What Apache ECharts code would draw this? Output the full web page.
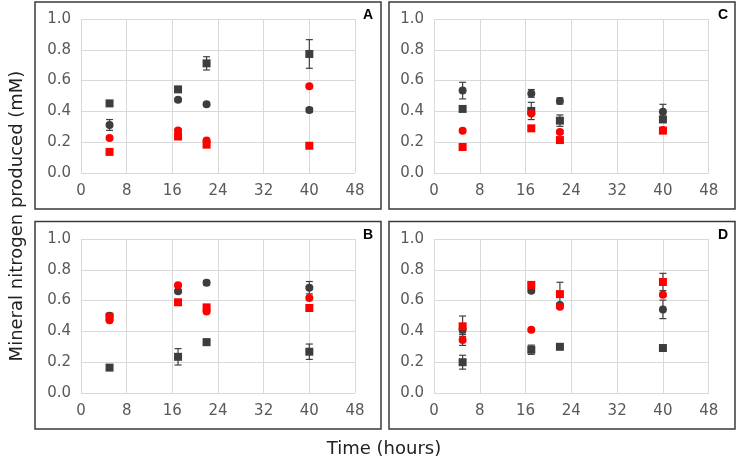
<!DOCTYPE html>
<html>
<head>
<meta charset="utf-8">
<script src="https://cdn.jsdelivr.net/npm/echarts@6/dist/echarts.min.js"></script>
<style>
html,body{margin:0;padding:0;background:#fff;}
#chart{width:737px;height:462px;}
</style>
</head>
<body>
<div id="chart"></div>
<script>
// ---- data ----
const xHours = [5, 17, 22, 40];
const xTicks = [0, 8, 16, 24, 32, 40, 48];
const yTicks = [0.0, 0.2, 0.4, 0.6, 0.8, 1.0];
const panelLabels = ['A', 'B', 'C', 'D'];

// Panel A
const A_blackSquare = [0.452, 0.543, 0.712, 0.773];
const A_blackSquareErr = [0.01, 0.01, 0.043, 0.093];
const A_blackCircle = [0.312, 0.475, 0.446, 0.409];
const A_blackCircleErr = [0.035, 0.01, 0.01, 0.015];
const A_redSquare = [0.137, 0.237, 0.184, 0.177];
const A_redSquareErr = [0.01, 0.01, 0.01, 0.01];
const A_redCircle = [0.227, 0.276, 0.211, 0.563];
const A_redCircleErr = [0.01, 0.01, 0.01, 0.01];

// Panel B
const B_blackSquare = [0.165, 0.235, 0.33, 0.268];
const B_blackSquareErr = [0.01, 0.053, 0.02, 0.05];
const B_blackCircle = [0.502, 0.66, 0.716, 0.684];
const B_blackCircleErr = [0.015, 0.01, 0.015, 0.04];
const B_redSquare = [0.495, 0.589, 0.556, 0.552];
const B_redSquareErr = [0.01, 0.01, 0.01, 0.01];
const B_redCircle = [0.472, 0.699, 0.530, 0.617];
const B_redCircleErr = [0.01, 0.01, 0.01, 0.01];

// Panel C
const C_blackSquare = [0.416, 0.403, 0.34, 0.348];
const C_blackSquareErr = [0.01, 0.056, 0.037, 0.02];
const C_blackCircle = [0.535, 0.517, 0.468, 0.398];
const C_blackCircleErr = [0.054, 0.025, 0.02, 0.048];
const C_redSquare = [0.169, 0.29, 0.214, 0.275];
const C_redSquareErr = [0.01, 0.01, 0.01, 0.01];
const C_redCircle = [0.275, 0.387, 0.266, 0.28];
const C_redCircleErr = [0.01, 0.01, 0.01, 0.01];

// Panel D
const D_blackSquare = [0.2, 0.281, 0.3, 0.292];
const D_blackSquareErr = [0.045, 0.03, 0.01, 0.01];
const D_blackCircle = [0.41, 0.664, 0.571, 0.543];
const D_blackCircleErr = [0.02, 0.01, 0.01, 0.06];
const D_redSquare = [0.433, 0.702, 0.642, 0.721];
const D_redSquareErr = [0.067, 0.01, 0.077, 0.056];
const D_redCircle = [0.344, 0.41, 0.56, 0.638];
const D_redCircleErr = [0.035, 0.01, 0.01, 0.01];

// ---- build ----
const FONT = '"DejaVu Sans", Verdana, sans-serif';
const BLACK = '#3d3d3d';
const RED = '#ff0000';
const ERR = '#404040';

const panels = [
  {label:'A', groups:[[A_blackSquare,A_blackSquareErr,'rect',BLACK],[A_blackCircle,A_blackCircleErr,'circle',BLACK],[A_redSquare,A_redSquareErr,'rect',RED],[A_redCircle,A_redCircleErr,'circle',RED]]},
  {label:'C', groups:[[C_blackSquare,C_blackSquareErr,'rect',BLACK],[C_blackCircle,C_blackCircleErr,'circle',BLACK],[C_redSquare,C_redSquareErr,'rect',RED],[C_redCircle,C_redCircleErr,'circle',RED]]},
  {label:'B', groups:[[B_blackSquare,B_blackSquareErr,'rect',BLACK],[B_blackCircle,B_blackCircleErr,'circle',BLACK],[B_redSquare,B_redSquareErr,'rect',RED],[B_redCircle,B_redCircleErr,'circle',RED]]},
  {label:'D', groups:[[D_blackSquare,D_blackSquareErr,'rect',BLACK],[D_blackCircle,D_blackCircleErr,'circle',BLACK],[D_redSquare,D_redSquareErr,'rect',RED],[D_redCircle,D_redCircleErr,'circle',RED]]}
];

const gridPos = [
  {left:81, top:19, width:274, height:154},
  {left:434, top:19, width:274.7, height:154},
  {left:81, top:239, width:274, height:154},
  {left:434, top:239, width:274.7, height:154}
];
const boxPos = [
  {x:35, y:2, w:346, h:207},
  {x:389, y:2, w:346, h:207},
  {x:35, y:221.5, w:346, h:207.5},
  {x:389, y:221.5, w:346, h:207.5}
];
const letterPos = [
  {x:373, y:15},
  {x:728, y:15},
  {x:373, y:235},
  {x:728, y:235}
];

const grids = [], xAxes = [], yAxes = [], series = [], graphics = [];

function errRender(params, api) {
  const x = api.value(0), y = api.value(1), e = api.value(2);
  const top = api.coord([x, y + e]);
  const bot = api.coord([x, y - e]);
  const hw = 3.5;
  const st = {stroke: ERR, lineWidth: 1.2};
  return {type:'group', children:[
    {type:'line', shape:{x1:top[0], y1:top[1], x2:bot[0], y2:bot[1]}, style:st},
    {type:'line', shape:{x1:top[0]-hw, y1:top[1], x2:top[0]+hw, y2:top[1]}, style:st},
    {type:'line', shape:{x1:bot[0]-hw, y1:bot[1], x2:bot[0]+hw, y2:bot[1]}, style:st}
  ]};
}

panels.forEach((p, i) => {
  grids.push(Object.assign({containLabel:false}, gridPos[i]));
  xAxes.push({
    type:'value', gridIndex:i, min:xTicks[0], max:xTicks[xTicks.length-1], interval:8,
    axisLine:{show:false}, axisTick:{show:false},
    axisLabel:{color:'#595959', fontSize:15, fontFamily:FONT, margin:11},
    splitLine:{show:true, lineStyle:{color:'#d9d9d9', width:1}}
  });
  yAxes.push({
    type:'value', gridIndex:i, min:yTicks[0], max:yTicks[yTicks.length-1], interval:0.2,
    axisLine:{show:false}, axisTick:{show:false},
    axisLabel:{color:'#595959', fontSize:15, fontFamily:FONT, margin:10, formatter:v=>v.toFixed(1)},
    splitLine:{show:true, lineStyle:{color:'#d9d9d9', width:1}}
  });
  p.groups.forEach((g, k) => {
    const [vals, errs, sym, col] = g;
    series.push({
      type:'custom', xAxisIndex:i, yAxisIndex:i, renderItem:errRender,
      encode:{x:0, y:1}, z:2+k*2, silent:true,
      data: xHours.map((x, j) => [x, vals[j], errs[j]])
    });
    series.push({
      type:'scatter', xAxisIndex:i, yAxisIndex:i, symbol:sym, symbolSize:8,
      itemStyle:{color:col, opacity:1}, z:3+k*2, silent:true,
      data: xHours.map((x, j) => [x, vals[j]])
    });
  });
  const b = boxPos[i];
  graphics.push({type:'rect', shape:{x:b.x, y:b.y, width:b.w, height:b.h},
    style:{fill:null, stroke:'#3a3a3a', lineWidth:1.5}, z:10});
  graphics.push({type:'text', x:letterPos[i].x, y:letterPos[i].y,
    style:{text:p.label, fill:'#000', font:'bold 14px "Liberation Sans", Arial, sans-serif', align:'right', verticalAlign:'middle'}, z:10});
});

graphics.push({type:'text', x:17, y:216, rotation:Math.PI/2,
  style:{text:'Mineral nitrogen produced (mM)', fill:'#222', font:'18px ' + FONT, align:'center', verticalAlign:'middle'}});
graphics.push({type:'text', x:384, y:449,
  style:{text:'Time (hours)', fill:'#222', font:'18px ' + FONT, align:'center', verticalAlign:'middle'}});

const chart = echarts.init(document.getElementById('chart'), null, {renderer:'canvas'});
chart.setOption({
  animation:false,
  backgroundColor:'#fff',
  grid:grids, xAxis:xAxes, yAxis:yAxes, series:series, graphic:graphics
});
</script>
</body>
</html>
